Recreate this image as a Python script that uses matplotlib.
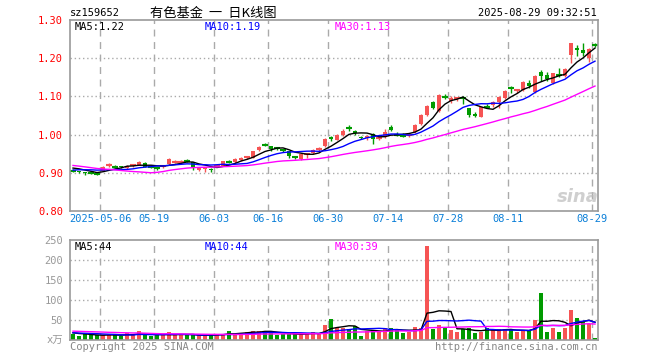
import matplotlib
matplotlib.use("Agg")
import matplotlib.pyplot as plt
import numpy as np
import pandas as pd

# ---- data (sz159652, daily K line) ----
dates = ["2025-05-06", "05-19", "06-03", "06-16", "06-30",
         "07-14", "07-28", "08-11", "08-29"]
date_idx = [5, 14, 24, 33, 43, 53, 63, 73, 87]

open_ = [0.906, 0.904, 0.901, 0.901, 0.898, 0.906, 0.919, 0.917, 0.917, 0.912,
         0.919, 0.921, 0.926, 0.916, 0.913, 0.916, 0.922, 0.927, 0.928, 0.932,
         0.928, 0.907, 0.909, 0.910, 0.918, 0.919, 0.930, 0.928, 0.933, 0.940,
         0.939, 0.959, 0.974, 0.969, 0.965, 0.961, 0.957, 0.942, 0.935, 0.949,
         0.951, 0.961, 0.969, 0.993, 0.987, 0.998, 1.018, 1.010, 0.994, 0.990,
         1.002, 0.989, 0.994, 1.021, 1.001, 0.998, 0.998, 1.007, 1.027, 1.051,
         1.086, 1.062, 1.100, 1.088, 1.094, 1.098, 1.069, 1.055, 1.047, 1.074,
         1.077, 1.086, 1.095, 1.124, 1.115, 1.116, 1.136, 1.112, 1.165, 1.156,
         1.134, 1.157, 1.154, 1.208, 1.228, 1.222, 1.201, 1.236]
close = [0.905, 0.902, 0.899, 0.900, 0.897, 0.916, 0.920, 0.916, 0.915, 0.919,
         0.920, 0.929, 0.916, 0.915, 0.912, 0.917, 0.937, 0.928, 0.929, 0.931,
         0.916, 0.912, 0.914, 0.908, 0.919, 0.930, 0.929, 0.936, 0.940, 0.941,
         0.957, 0.968, 0.973, 0.961, 0.964, 0.960, 0.944, 0.941, 0.948, 0.950,
         0.959, 0.962, 0.988, 0.989, 0.999, 1.010, 1.017, 1.004, 0.992, 0.997,
         0.988, 0.990, 1.006, 1.012, 1.000, 0.997, 0.999, 1.025, 1.051, 1.076,
         1.069, 1.104, 1.099, 1.097, 1.095, 1.097, 1.051, 1.050, 1.071, 1.073,
         1.086, 1.098, 1.114, 1.123, 1.116, 1.139, 1.128, 1.154, 1.154, 1.146,
         1.160, 1.156, 1.173, 1.239, 1.222, 1.213, 1.224, 1.235]
high = [0.910, 0.906, 0.903, 0.903, 0.900, 0.917, 0.926, 0.921, 0.918, 0.920,
        0.924, 0.930, 0.927, 0.918, 0.915, 0.920, 0.938, 0.933, 0.933, 0.936,
        0.929, 0.914, 0.915, 0.912, 0.923, 0.931, 0.934, 0.938, 0.942, 0.945,
        0.958, 0.970, 0.979, 0.971, 0.967, 0.963, 0.958, 0.944, 0.949, 0.953,
        0.961, 0.968, 0.990, 0.997, 1.001, 1.014, 1.025, 1.012, 0.997, 0.999,
        1.004, 0.994, 1.014, 1.025, 1.006, 1.003, 1.002, 1.027, 1.053, 1.078,
        1.088, 1.106, 1.107, 1.101, 1.099, 1.102, 1.070, 1.058, 1.072, 1.079,
        1.088, 1.100, 1.116, 1.128, 1.120, 1.141, 1.144, 1.156, 1.170, 1.165,
        1.162, 1.175, 1.175, 1.241, 1.234, 1.239, 1.226, 1.240]
low = [0.901, 0.899, 0.895, 0.897, 0.894, 0.904, 0.915, 0.913, 0.912, 0.910,
       0.916, 0.920, 0.914, 0.912, 0.908, 0.913, 0.921, 0.925, 0.925, 0.928,
       0.908, 0.905, 0.902, 0.903, 0.915, 0.917, 0.926, 0.926, 0.931, 0.936,
       0.938, 0.957, 0.969, 0.958, 0.960, 0.955, 0.940, 0.937, 0.933, 0.940,
       0.949, 0.958, 0.967, 0.982, 0.985, 0.996, 1.010, 1.000, 0.988, 0.987,
       0.975, 0.986, 0.992, 1.009, 0.996, 0.993, 0.994, 1.005, 1.025, 1.049,
       1.066, 1.060, 1.093, 1.083, 1.088, 1.080, 1.047, 1.046, 1.045, 1.071,
       1.072, 1.070, 1.093, 1.110, 1.110, 1.114, 1.122, 1.110, 1.140, 1.141,
       1.132, 1.150, 1.152, 1.187, 1.206, 1.206, 1.190, 1.230]
# volume in 万
volume = [15, 9, 15, 12, 12, 12, 12, 15, 9, 18, 12, 23, 12, 9, 12, 12, 21, 12,
          12, 12, 12, 12, 12, 12, 15, 15, 23, 13, 18, 21, 23, 23, 23, 18, 12, 15,
          15, 15, 15, 15, 21, 15, 38, 53, 29, 31, 27, 35, 11, 22, 25, 21, 30, 30,
          25, 18, 19, 32, 31, 236, 28, 38, 29, 25, 20, 27, 30, 18, 21, 30, 24, 27,
          27, 24, 21, 22, 24, 50, 118, 20, 31, 21, 31, 75, 54, 48, 40, 5]

# closes / volumes before the window, estimated from where the MA lines start
pre_close = [0.955, 0.958, 0.962, 0.960, 0.957, 0.953, 0.956, 0.960, 0.962,
             0.958, 0.955, 0.952, 0.950, 0.880, 0.855, 0.845, 0.862, 0.870,
             0.875, 0.882, 0.893, 0.898, 0.902, 0.905, 0.910, 0.912, 0.915,
             0.916, 0.914]
pre_volume = [24, 27, 25, 28, 26, 30, 24, 26, 27, 25, 23, 28, 26, 27, 24,
              17, 19, 18, 20, 18, 17, 19, 18, 17, 20, 18, 19, 20, 18]

ma_labels = ["MA5:1.22", "MA10:1.19", "MA30:1.13"]
vol_ma_labels = ["MA5:44", "MA10:44", "MA30:39"]

RED = "#f65454"
GREEN = "#009b00"
MA_COLORS = ["black", "#0000ff", "#ff00ff"]
GRID = "#aaaaaa"
MONO = "DejaVu Sans Mono"

W, H = 660, 360


def box(l, t, r, b):
    return [l / W, 1 - b / H, (r - l) / W, (b - t) / H]


def moving_avg(pre, vals, n):
    s = pd.Series(list(pre) + list(vals)).rolling(n).mean().to_numpy()
    return s[len(pre):]


x = np.arange(len(close))
o = np.array(open_)
c = np.array(close)
up = c >= o
colors = np.where(up, RED, GREEN)

fig = plt.figure(figsize=(6.6, 3.6), dpi=100)
ax = fig.add_axes(box(70, 20, 598, 211))
axv = fig.add_axes(box(70, 240, 598, 340))

# ---- candles ----
ax.vlines(x, low, high, colors=colors, lw=1)
body = np.abs(c - o)
flat = body < 0.0015
ax.bar(x[~flat], body[~flat], bottom=np.minimum(o, c)[~flat], width=0.8,
       color=colors[~flat], linewidth=0)
ax.hlines(c[flat], x[flat] - 0.42, x[flat] + 0.42, colors=colors[flat], lw=1.5)

for n, col in zip([5, 10, 30], MA_COLORS):
    ax.plot(x, moving_avg(pre_close, close, n), color=col, lw=1)

# ---- volume ----
axv.bar(x, volume, width=0.8, color=colors, linewidth=0)
for n, col in zip([5, 10, 30], MA_COLORS):
    axv.plot(x, moving_avg(pre_volume, volume, n), color=col, lw=1)

# ---- axes styling ----
for a in (ax, axv):
    a.set_xlim(-0.5, len(close) - 0.5)
    for s in a.spines.values():
        s.set_color("#999999")
        s.set_linewidth(1.2)
    for i in date_idx:
        a.axvline(i - 0.5, color=GRID, lw=1, ls=(0, (5, 4)), zorder=0)
    a.tick_params(length=0)

ax.set_ylim(0.80, 1.30)
yt = [0.80, 0.90, 1.00, 1.10, 1.20, 1.30]
ax.set_yticks(yt)
ax.set_yticklabels(["%.2f" % v for v in yt], color="red", family=MONO,
                   fontsize=7.5)
ax.tick_params(axis="y", pad=5)
for v in yt[1:-1]:
    ax.axhline(v, color=GRID, lw=1, ls=(0, (1, 2)), zorder=0)
ax.set_xticks([i - 0.5 for i in date_idx])
ax.set_xticklabels(dates, color="#0a7fd8", family=MONO, fontsize=7.5)
ax.tick_params(axis="x", pad=2)

axv.set_ylim(0, 250)
vt = [0, 50, 100, 150, 200, 250]
axv.set_yticks(vt)
axv.set_yticklabels(["x万"] + [str(v) for v in vt[1:]], color="#999999",
                    family=[MONO, "Noto Sans CJK SC"], fontsize=7.5)
axv.tick_params(axis="y", pad=5)
for v in vt[1:-1]:
    axv.axhline(v, color=GRID, lw=1, ls=(0, (1, 2)), zorder=0)
axv.set_xticks([])

# ---- texts ----
def ftext(px, py, s, **kw):
    fig.text(px / W, 1 - py / H, s, **kw)


ftext(70, 13, "sz159652", family=MONO, fontsize=7.5, va="center")
ftext(213, 13, "有色基金  一  日K线图", family=["Noto Sans CJK SC"],
      fontsize=9.5, ha="center", va="center")
ftext(597, 13, "2025-08-29 09:32:51", family=MONO, fontsize=7.5, ha="right",
      va="center")
for px, s, col in zip([75, 205, 335], ma_labels, MA_COLORS):
    ftext(px, 27, s, family=MONO, fontsize=7.5, color=col, va="center")
for px, s, col in zip([75, 205, 335], vol_ma_labels, MA_COLORS):
    ftext(px, 247, s, family=MONO, fontsize=7.5, color=col, va="center")
ftext(70, 347, "Copyright 2025 SINA.COM", family=MONO, fontsize=7.5,
      color="#888888", va="center")
ftext(597, 347, "http://finance.sina.com.cn", family=MONO, fontsize=7.5,
      color="#888888", ha="right", va="center")
# faint sina watermark
ftext(578, 197, "sina", fontsize=13, fontweight="bold", style="italic",
      color="#bbbbbb", alpha=0.7, ha="center", va="center")

fig.savefig("out.png", dpi=100)
